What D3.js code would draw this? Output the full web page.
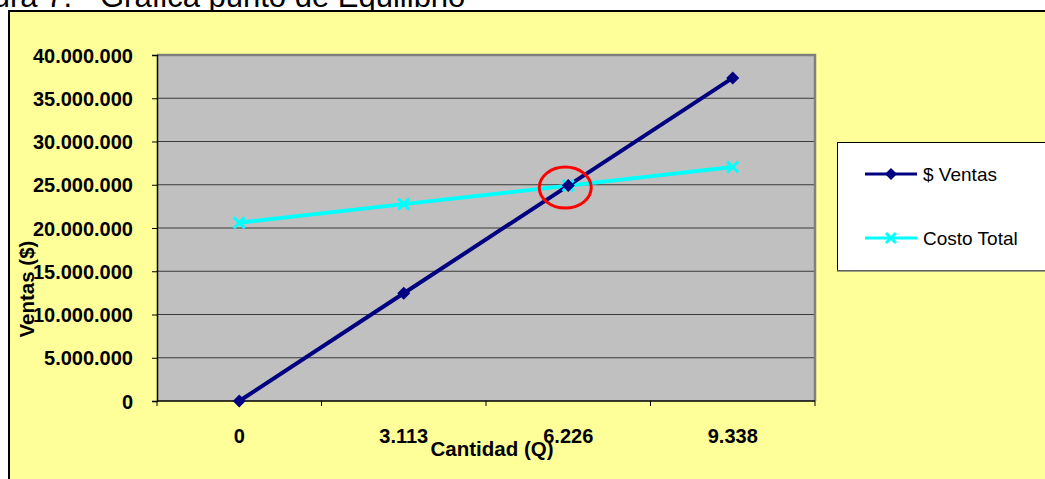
<!DOCTYPE html>
<html>
<head>
<meta charset="utf-8">
<script src="https://cdn.jsdelivr.net/npm/d3@7"></script>
<style>
  html, body { margin: 0; padding: 0; background: #fff; overflow: hidden; }
  svg { display: block; font-family: "Liberation Sans", Arial, sans-serif; }
</style>
</head>
<body>
<svg id="chart" width="1045" height="479"></svg>
<script>
// ---- Data ----
const categories = ["0", "3.113", "6.226", "9.338"];
const ventas = [0, 12452000, 24904000, 37352000];
const costoTotal = [20610000, 22760000, 24900000, 27050000];
const yTicks = [0, 5000000, 10000000, 15000000, 20000000, 25000000, 30000000, 35000000, 40000000];
const seriesNames = ["$ Ventas", "Costo Total"];
const breakEvenIndex = 2;

const svg = d3.select("#chart");
const W = 1045, H = 479;

// Title (clipped at top, as in the reference)
svg.append("text").attr("x", 72).attr("y", 7).attr("text-anchor", "end")
  .attr("font-size", 31).attr("fill", "#000").text("Figura 7.");
svg.append("text").attr("x", 100).attr("y", 7)
  .attr("font-size", 31).attr("fill", "#000").text("Gráfica punto de Equilibrio");

// Chart area frame
svg.append("rect").attr("x", 9).attr("y", 11).attr("width", W + 20).attr("height", H + 20)
  .attr("fill", "#FFFF99").attr("stroke", "#000").attr("stroke-width", 2);

const plot = { left: 157, right: 815, top: 55, bottom: 401 };

const x = d3.scaleBand().domain(categories).range([plot.left, plot.right]);
const y = d3.scaleLinear().domain([0, 40000000]).range([plot.bottom, plot.top]);
const fmt = v => d3.format(",")(v).replace(/,/g, ".");

// Plot background
svg.append("rect").attr("x", plot.left).attr("y", plot.top)
  .attr("width", plot.right - plot.left).attr("height", plot.bottom - plot.top)
  .attr("fill", "#C0C0C0");

// Gridlines
svg.append("g").selectAll("line").data(yTicks.filter(t => t > 0 && t < 40000000)).join("line")
  .attr("x1", plot.left).attr("x2", plot.right)
  .attr("y1", d => y(d)).attr("y2", d => y(d))
  .attr("stroke", "#3a3a3a").attr("stroke-width", 1.2);

// Plot border top/right gray
svg.append("path")
  .attr("d", `M${plot.left},${plot.top}H${plot.right}V${plot.bottom}`)
  .attr("fill", "none").attr("stroke", "#808080").attr("stroke-width", 2.5);

// Y axis
const yAxis = d3.axisLeft(y).tickValues(yTicks).tickFormat(fmt).tickSize(5).tickPadding(19);
const gy = svg.append("g").attr("transform", `translate(${plot.left},0)`).call(yAxis);
gy.select(".domain").attr("stroke", "#000").attr("stroke-width", 1.5);
gy.selectAll(".tick line").attr("stroke", "#000");
gy.selectAll(".tick text").attr("font-size", 20).attr("font-weight", "bold")
  .attr("fill", "#000").attr("font-family", "Liberation Sans, Arial, sans-serif")
  .attr("dy", "0.36em");

// X axis (ticks between categories)
const boundaries = categories.map(c => x(c)).concat([x.range()[1]]);
const gx = svg.append("g");
gx.append("line").attr("x1", plot.left).attr("x2", plot.right)
  .attr("y1", plot.bottom).attr("y2", plot.bottom)
  .attr("stroke", "#000").attr("stroke-width", 1.5);
gx.selectAll("line.tk").data(boundaries).join("line").attr("class", "tk")
  .attr("x1", d => d).attr("x2", d => d)
  .attr("y1", plot.bottom).attr("y2", plot.bottom + 5)
  .attr("stroke", "#000");
gx.selectAll("text").data(categories).join("text")
  .attr("x", d => x(d) + x.bandwidth() / 2).attr("y", 443)
  .attr("text-anchor", "middle").attr("font-size", 20).attr("font-weight", "bold")
  .text(d => d);

// Axis titles
svg.append("text").attr("x", 492).attr("y", 456).attr("text-anchor", "middle")
  .attr("font-size", 20.5).attr("font-weight", "bold").text("Cantidad (Q)");
svg.append("text").attr("transform", "translate(34,289) rotate(-90)")
  .attr("text-anchor", "middle").attr("font-size", 20.5).attr("font-weight", "bold")
  .text("Ventas ($)");

const cx = (d, i) => x(categories[i]) + x.bandwidth() / 2;
const line = d3.line().x((d, i) => cx(d, i)).y(d => y(d));

// Series lines
svg.append("path").datum(costoTotal).attr("d", line)
  .attr("fill", "none").attr("stroke", "#00FFFF").attr("stroke-width", 4);
svg.append("path").datum(ventas).attr("d", line)
  .attr("fill", "none").attr("stroke", "#000080").attr("stroke-width", 4);

// Markers
const diamond = s => `M0,${-s}L${s},0L0,${s}L${-s},0Z`;
const cross = s => `M${-s},${-s}L${s},${s}M${-s},${s}L${s},${-s}`;
svg.append("g").selectAll("path").data(costoTotal).join("path")
  .attr("transform", (d, i) => `translate(${cx(d, i)},${y(d)})`)
  .attr("d", cross(5.5)).attr("stroke", "#00FFFF").attr("stroke-width", 3).attr("fill", "none");
svg.append("g").selectAll("path").data(ventas).join("path")
  .attr("transform", (d, i) => `translate(${cx(d, i)},${y(d)})`)
  .attr("d", diamond(6.5)).attr("fill", "#000080");

// Break-even highlight ellipse
svg.append("ellipse")
  .attr("cx", cx(null, breakEvenIndex) - 3).attr("cy", y(ventas[breakEvenIndex]) + 2)
  .attr("rx", 26).attr("ry", 20.5)
  .attr("fill", "none").attr("stroke", "#FF0000").attr("stroke-width", 3);

// Legend
const lg = svg.append("g");
lg.append("rect").attr("x", 837.5).attr("y", 142.5).attr("width", 230).attr("height", 128)
  .attr("fill", "#fff").attr("stroke", "#000").attr("stroke-width", 1);
lg.append("line").attr("x1", 837).attr("x2", 1045).attr("y1", 271).attr("y2", 271)
  .attr("stroke", "#808080").attr("stroke-width", 1.5);
const legY = [174, 238];
const legColors = ["#000080", "#00FFFF"];
seriesNames.forEach((name, i) => {
  lg.append("line").attr("x1", 865).attr("x2", 917).attr("y1", legY[i]).attr("y2", legY[i])
    .attr("stroke", legColors[i]).attr("stroke-width", 3);
  if (i === 0) {
    lg.append("path").attr("transform", `translate(891,${legY[i]})`).attr("d", diamond(6)).attr("fill", legColors[i]);
  } else {
    lg.append("path").attr("transform", `translate(891,${legY[i]})`).attr("d", cross(5))
      .attr("stroke", legColors[i]).attr("stroke-width", 3).attr("fill", "none");
  }
  lg.append("text").attr("x", 923).attr("y", legY[i] + 7).attr("font-size", 19)
    .attr("fill", "#000").text(name);
});
</script>
</body>
</html>
